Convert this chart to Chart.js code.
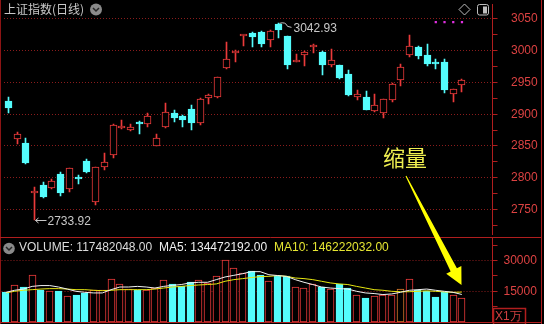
<!DOCTYPE html>
<html>
<head>
<meta charset="utf-8">
<script src="https://cdn.jsdelivr.net/npm/chart.js@4/dist/chart.umd.min.js"></script>
<style>
  html, body { margin: 0; padding: 0; background: #000; }
  #wrap { position: relative; width: 544px; height: 324px; background: #000; overflow: hidden; }
  .box { position: absolute; left: 0; width: 544px; }
</style>
</head>
<body>
<div id="wrap">
  <div class="box" style="top:0;height:238px"><canvas id="kline"></canvas></div>
  <div class="box" style="top:238px;height:84px"><canvas id="vol"></canvas></div>
  <canvas id="over" width="544" height="324" style="position:absolute;left:0;top:0;pointer-events:none"></canvas>
</div>
<script>
// --- 数据 ---
const days = ['1','2','3','4','5','6','7','8','9','10','11','12','13','14','15','16','17','18','19','20',
  '21','22','23','24','25','26','27','28','29','30','31','32','33','34','35','36','37','38','39','40',
  '41','42','43','44','45','46','47','48','49','50','51','52','53','54','55','56'];

const opens = [2921.4,2860.6,2854.5,2775.4,2788.6,2783.5,2805.8,2781.9,2799.0,2826.0,
  2761.7,2816.9,2835.2,2878.0,2874.7,2887.9,2883.8,2850.4,2879.3,2901.2,
  2897.0,2907.7,2886.9,2924.9,2926.4,2972.0,2996.4,3022.8,3027.8,3029.3,
  3016.1,3041.5,3022.8,2982.2,2992.4,3005.0,2998.5,2978.1,2977.2,2963.5,
  2927.5,2927.5,2905.1,2901.2,2922.9,2954.4,2993.3,3006.5,2993.3,2979.9,
  2982.2,2932.5,2945.3];
const closes = [2909.7,2868.2,2822.5,2778.4,2769.3,2794.7,2775.4,2814.9,2797.5,2808.8,
  2816.5,2824.1,2883.4,2880.3,2879.9,2883.8,2897.0,2863.1,2902.7,2894.5,
  2891.0,2886.9,2924.4,2930.5,2957.9,2986.3,3000.0,3024.5,3021.7,3010.0,
  3030.4,3031.9,2978.1,2983.7,2998.5,3007.0,2978.1,2984.8,2956.8,2930.0,
  2931.6,2907.2,2913.8,2924.0,2947.7,2974.6,3007.6,2990.9,2979.6,2978.4,
  2938.1,2939.2,2954.4];
const highs = [2927.5,2871.7,2863.1,2786.0,2793.6,2798.2,2808.8,2815.7,2803.8,2830.1,
  2817.2,2839.3,2884.1,2891.0,2884.4,2889.0,2901.2,2869.2,2918.3,2906.2,
  2898.1,2914.8,2925.2,2931.3,2958.6,3014.1,3000.8,3025.2,3028.6,3030.4,
  3032.8,3042.93,3023.6,2994.8,2999.2,3010.0,2999.2,3002.4,2978.0,2969.6,
  2937.7,2936.6,2932.5,2924.7,2948.4,2979.6,3025.2,3007.3,3011.1,2987.2,
  2987.2,2940.0,2955.1];
const lows = [2902.1,2852.9,2821.8,2733.92,2768.6,2782.7,2771.3,2778.0,2790.6,2808.0,
  2757.6,2812.3,2831.2,2876.8,2873.2,2868.2,2879.3,2849.6,2878.5,2888.4,
  2879.3,2874.7,2883.4,2915.3,2925.6,2971.3,2982.2,3007.6,3005.0,3005.0,
  3005.0,3020.2,2971.1,2981.4,2976.1,2996.4,2962.0,2974.6,2956.0,2929.3,
  2922.4,2906.5,2903.6,2893.6,2918.8,2944.2,2989.8,2987.2,2976.1,2970.5,
  2934.0,2918.8,2935.5];

// 成交量 (万)
const volumes = [14512,18270,16954,23160,15830,15000,15000,12900,13190,14170,
  15490,15830,21200,18760,16320,15490,15830,16610,20720,18420,
  17780,19400,20370,19060,22670,30490,26240,23940,24770,23160,
  19890,22670,22330,16950,16470,18420,17100,16320,18760,16810,
  13390,11730,12560,13050,13050,16120,21010,15830,15000,12210,
  14510,13390,11748];
const ma5 = [14500,15500,16100,17400,17800,17800,17100,16100,15000,14500,
  14200,14200,15800,17100,17100,17400,17100,16600,17400,17900,
  18300,19100,19400,19400,20700,22000,22800,23600,24600,24600,
  23100,22700,22300,20700,19400,18300,17100,16600,16300,16100,
  15000,14200,13900,13400,13700,14500,15500,15800,16100,15500,
  15000,14500,13447];
const ma10 = [14200,15000,15500,15800,16100,16300,16300,16100,15800,15800,
  15500,15300,15500,15800,15800,15800,15800,16100,16600,17100,
  17400,17800,18100,18300,18600,19900,20700,21200,21700,22200,
  22300,22700,22300,21500,21200,20700,19900,19100,18600,18300,
  17400,16600,15800,15500,15000,14800,14800,15000,15200,15000,
  14700,14500,14622];

const priceTicks = [2725,2750,2775,2800,2825,2850,2875,2900,2925,2950,2975,3000,3025,3050];
const volTicks = [7500,15000,22500,30000,37500];
const signalIdx = [49,50,51,52];
const signalLevel = 3045;
const highlightBar = 45;

// --- 颜色 ---
const RED = '#eb3a3a', CYAN = '#54fcfc', ORANGE = '#dc7a2a';
const AXIS = '#b01e1e', GRID = '#8a1c1c', LABEL = '#dc4242';

Chart.defaults.font.family = '"Liberation Sans", Arial, sans-serif';
Chart.defaults.font.size = 12;

const isUp = opens.map((o, i) => closes[i] >= o);
const candleColor = isUp.map(u => u ? RED : CYAN);
const fillColor = isUp.map(u => u ? '#000' : CYAN);
const volColor = candleColor.map((c, i) => i === highlightBar ? ORANGE : c);
const signalData = days.map((d, i) => signalIdx.includes(i) ? signalLevel : null);

// 柱子对齐像素
const snapBars = {
  id: 'snapBars',
  beforeDatasetsDraw(chart) {
    chart.getSortedVisibleDatasetMetas().forEach(meta => {
      if (meta.type !== 'bar') return;
      meta.data.forEach(el => {
        el.x = Math.floor(el.x) + 0.5;
        el.y = Math.round(el.y);
        el.base = Math.round(el.base);
      });
    });
  }
};

function rightAxis(min, max, ticks, step, pad) {
  return {
    position: 'right', min, max,
    afterBuildTicks: s => { s.ticks = ticks.map(v => ({ value: v })); },
    afterFit: s => { s.width = 51.5; s.paddingTop = 0; s.paddingBottom = 0; },
    ticks: { autoSkip: false, padding: pad, color: LABEL, callback: v => v % step === 0 ? String(v) : '' },
    grid: {
      color: c => (c.tick && c.tick.value % step === 0) ? GRID : 'rgba(0,0,0,0)',
      tickColor: AXIS, tickLength: 5, tickBorderDash: [], lineWidth: 1
    },
    border: { color: AXIS, dash: [1, 2] }
  };
}

const baseOpts = {
  responsive: true, maintainAspectRatio: false, animation: false, devicePixelRatio: 1,
  layout: { padding: { left: 1.5, right: 0, top: 0, bottom: 0 } },
  plugins: { legend: { display: false }, tooltip: { enabled: false } }
};

// 最高/最低价标注
const extremes = {
  id: 'extremes',
  afterDraw(chart) {
    const { ctx, scales: { x, y } } = chart;
    const hi = Math.max(...highs), lo = Math.min(...lows);
    ctx.save();
    ctx.strokeStyle = '#c8c8c8'; ctx.fillStyle = '#c8c8c8'; ctx.lineWidth = 1;
    ctx.font = '12px "Liberation Sans", Arial, sans-serif';
    ctx.textBaseline = 'middle';

    let px = Math.floor(x.getPixelForValue(highs.indexOf(hi))) + 0.5, py = y.getPixelForValue(hi);
    ctx.beginPath();
    ctx.moveTo(px + 1, py); ctx.quadraticCurveTo(px + 7, py - 2, px + 9, py + 3); ctx.lineTo(px + 13, py + 4);
    ctx.stroke();
    ctx.fillText(hi.toFixed(2), px + 15, py + 5.5);

    px = Math.floor(x.getPixelForValue(lows.indexOf(lo))) + 0.5; py = Math.round(y.getPixelForValue(lo)) + 0.5;
    ctx.beginPath();
    ctx.moveTo(px + 12, py); ctx.lineTo(px + 1, py);
    ctx.moveTo(px + 4, py - 2.5); ctx.lineTo(px + 1, py); ctx.lineTo(px + 4, py + 2.5);
    ctx.stroke();
    ctx.fillText(lo.toFixed(2), px + 13, py + 1);
    ctx.restore();
  }
};

// --- K线图 ---
const kChart = new Chart(document.getElementById('kline'), {
  type: 'bar',
  data: {
    labels: days,
    datasets: [
      { type: 'line', data: signalData, showLine: false, pointStyle: 'rect', pointRadius: 1.6,
        pointBackgroundColor: '#e030e0', pointBorderWidth: 0, order: 0 },
      { data: opens.map((o, i) => [o, closes[i]]), backgroundColor: fillColor, borderColor: candleColor,
        borderWidth: 1, borderSkipped: false, barThickness: 7, minBarLength: 2, grouped: false, order: 1 },
      { data: lows.map((l, i) => [l, highs[i]]), backgroundColor: candleColor, borderWidth: 0,
        barThickness: 1, grouped: false, order: 2 }
    ]
  },
  options: Object.assign({}, baseOpts, {
    scales: {
      x: { display: false, offset: true },
      y: rightAxis(2711.5, 3073.4, priceTicks, 50, 13.5)
    }
  }),
  plugins: [snapBars, extremes]
});

// --- 成交量 ---
const vChart = new Chart(document.getElementById('vol'), {
  type: 'bar',
  data: {
    labels: days,
    datasets: [
      { type: 'line', data: ma5, borderColor: '#f2f2f2', borderWidth: 1, pointRadius: 0, order: 0 },
      { type: 'line', data: ma10, borderColor: '#e6e610', borderWidth: 1, pointRadius: 0, order: 0 },
      { data: volumes, backgroundColor: fillColor, borderColor: volColor, borderWidth: 1,
        borderSkipped: false, barThickness: 7, grouped: false, order: 1 }
    ]
  },
  options: Object.assign({}, baseOpts, {
    scales: {
      x: { display: false, offset: true },
      y: rightAxis(0, 41042, volTicks, 15000, 6)
    }
  }),
  plugins: [snapBars]
});

// --- 叠加层: 边框, 标题, 标注 ---
const oc = document.getElementById('over').getContext('2d');
function seg(x1, y1, x2, y2) { oc.beginPath(); oc.moveTo(x1, y1); oc.lineTo(x2, y2); oc.stroke(); }
function chevronIcon(cx, cy, r) {
  oc.fillStyle = '#8a8a8a';
  oc.beginPath(); oc.arc(cx, cy, r, 0, Math.PI * 2); oc.fill();
  oc.strokeStyle = '#262626'; oc.lineWidth = 1.5;
  oc.beginPath(); oc.moveTo(cx - 3, cy - 1.5); oc.lineTo(cx, cy + 1.5); oc.lineTo(cx + 3, cy - 1.5); oc.stroke();
}

oc.lineWidth = 1;
oc.strokeStyle = '#8c1414';
seg(0.5, 0, 0.5, 324);
oc.strokeStyle = AXIS;
seg(0, 237.5, 541, 237.5);
seg(541.5, 0, 541.5, 324);
seg(0, 322.5, 541, 322.5);

// 标题
oc.textBaseline = 'middle';
oc.fillStyle = '#c8c8c8';
oc.font = '12px "Noto Sans CJK SC", sans-serif';
oc.fillText('上证指数(日线)', 4, 9.5);
chevronIcon(96, 9.5, 6);

// 右上角图标
oc.strokeStyle = '#bdbdbd'; oc.lineWidth = 1;
oc.beginPath(); oc.moveTo(464.5, 4); oc.lineTo(470, 9.5); oc.lineTo(464.5, 15); oc.lineTo(459, 9.5); oc.closePath(); oc.stroke();
oc.beginPath(); oc.roundRect(477.5, 4.5, 11, 10.5, 2); oc.stroke();
oc.fillStyle = '#bdbdbd'; oc.fillRect(483, 6.5, 4, 7);

// 成交量标题行
chevronIcon(9, 248.5, 5.8);
oc.font = '12px "Liberation Sans", Arial, sans-serif';
oc.fillStyle = '#dcdcdc';
oc.fillText('VOLUME: 117482048.00', 19, 248);
oc.fillStyle = '#f0f0f0';
oc.fillText('MA5: 134472192.00', 159, 248);
oc.fillStyle = '#e6e632';
oc.fillText('MA10: 146222032.00', 274, 248);

// 单位框
oc.strokeStyle = AXIS;
oc.strokeRect(493.5, 308.5, 32, 16);
oc.fillStyle = '#d04040';
oc.fillText('X1万', 495, 316.5);

// 缩量 注释 + 箭头
oc.fillStyle = '#eeee50';
oc.font = '22px "Noto Sans CJK SC", sans-serif';
oc.fillText('缩量', 383, 158);

const S = [406, 176], T = [461.5, 285];
const len = Math.hypot(T[0] - S[0], T[1] - S[1]);
const u = [(T[0] - S[0]) / len, (T[1] - S[1]) / len], n = [u[1], -u[0]];
const B = [T[0] - 17 * u[0], T[1] - 17 * u[1]];
const pt = (p, k) => [p[0] + k * n[0], p[1] + k * n[1]];
const poly = [pt(S, 0.5), pt(B, 3.5), pt(B, 8.5), T, pt(B, -8.5), pt(B, -3.5), pt(S, -0.5)];
oc.fillStyle = '#ffff00';
oc.beginPath();
poly.forEach((p, i) => i ? oc.lineTo(p[0], p[1]) : oc.moveTo(p[0], p[1]));
oc.closePath(); oc.fill();
</script>
</body>
</html>
